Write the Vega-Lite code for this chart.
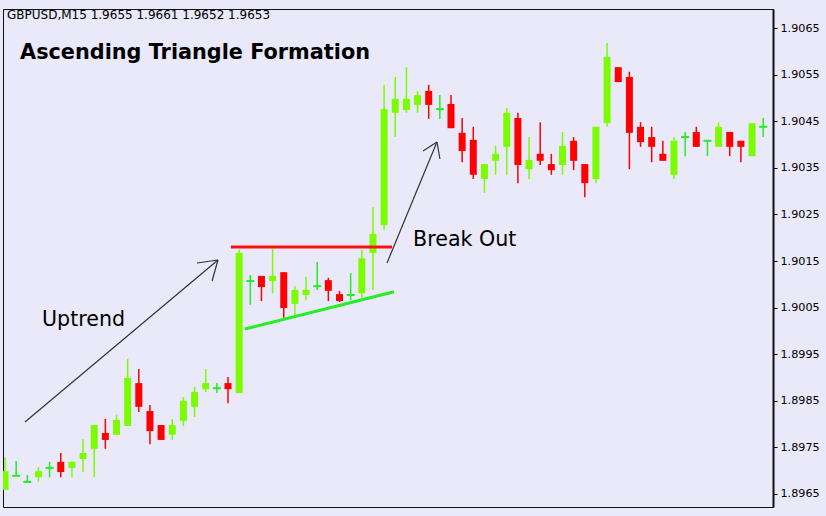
{
  "$schema": "https://vega.github.io/schema/vega-lite/v6.json",
  "width": 770,
  "height": 498,
  "autosize": {"type": "none"},
  "padding": {"left": 3, "top": 9, "right": 53, "bottom": 9},
  "background": "#E9E9F9",
  "config": {
    "view": {"fill": "#E9E9F9", "stroke": "#111111", "strokeWidth": 1},
    "font": "DejaVu Sans"
  },
  "datasets": {
    "candles": [
      {"i":0,"o":1.89659,"h":1.89729,"l":1.89659,"c":1.89699,"dir":"up"},
      {"i":1,"o":1.89689,"h":1.89721,"l":1.89689,"c":1.89689,"dir":"doji"},
      {"i":2,"o":1.89676,"h":1.89691,"l":1.89676,"c":1.89676,"dir":"doji"},
      {"i":3,"o":1.89686,"h":1.89708,"l":1.89676,"c":1.89699,"dir":"up"},
      {"i":4,"o":1.89706,"h":1.89719,"l":1.89686,"c":1.89706,"dir":"doji"},
      {"i":5,"o":1.89719,"h":1.89738,"l":1.89686,"c":1.89697,"dir":"down"},
      {"i":6,"o":1.89706,"h":1.89719,"l":1.89686,"c":1.89719,"dir":"up"},
      {"i":7,"o":1.89725,"h":1.89768,"l":1.89697,"c":1.89738,"dir":"up"},
      {"i":8,"o":1.89747,"h":1.89798,"l":1.89686,"c":1.89798,"dir":"up"},
      {"i":9,"o":1.89781,"h":1.89811,"l":1.89747,"c":1.89766,"dir":"down"},
      {"i":10,"o":1.89777,"h":1.8982,"l":1.89777,"c":1.89809,"dir":"up"},
      {"i":11,"o":1.89796,"h":1.8994,"l":1.89796,"c":1.89899,"dir":"up"},
      {"i":12,"o":1.89888,"h":1.89918,"l":1.89826,"c":1.89837,"dir":"down"},
      {"i":13,"o":1.89828,"h":1.89841,"l":1.89757,"c":1.89785,"dir":"down"},
      {"i":14,"o":1.89798,"h":1.89798,"l":1.89766,"c":1.89766,"dir":"down"},
      {"i":15,"o":1.89777,"h":1.89811,"l":1.89766,"c":1.89798,"dir":"up"},
      {"i":16,"o":1.89807,"h":1.89858,"l":1.89796,"c":1.8985,"dir":"up"},
      {"i":17,"o":1.89837,"h":1.8988,"l":1.89815,"c":1.89869,"dir":"up"},
      {"i":18,"o":1.89875,"h":1.89918,"l":1.89869,"c":1.89888,"dir":"up"},
      {"i":19,"o":1.89877,"h":1.89888,"l":1.89867,"c":1.89877,"dir":"doji"},
      {"i":20,"o":1.89888,"h":1.89901,"l":1.89845,"c":1.89875,"dir":"down"},
      {"i":21,"o":1.89867,"h":1.90174,"l":1.89867,"c":1.90167,"dir":"up"},
      {"i":22,"o":1.90107,"h":1.9012,"l":1.90056,"c":1.90107,"dir":"doji"},
      {"i":23,"o":1.90118,"h":1.90118,"l":1.90064,"c":1.90094,"dir":"down"},
      {"i":24,"o":1.90107,"h":1.90176,"l":1.90081,"c":1.90118,"dir":"up"},
      {"i":25,"o":1.90126,"h":1.90126,"l":1.90028,"c":1.90049,"dir":"down"},
      {"i":26,"o":1.90058,"h":1.90096,"l":1.9003,"c":1.90088,"dir":"up"},
      {"i":27,"o":1.90077,"h":1.90116,"l":1.90066,"c":1.90088,"dir":"up"},
      {"i":28,"o":1.90096,"h":1.90148,"l":1.90088,"c":1.90096,"dir":"doji"},
      {"i":29,"o":1.90109,"h":1.90114,"l":1.90064,"c":1.90086,"dir":"down"},
      {"i":30,"o":1.90079,"h":1.90086,"l":1.90062,"c":1.90064,"dir":"down"},
      {"i":31,"o":1.90077,"h":1.90124,"l":1.90066,"c":1.90077,"dir":"doji"},
      {"i":32,"o":1.90081,"h":1.90174,"l":1.90071,"c":1.90156,"dir":"up"},
      {"i":33,"o":1.90167,"h":1.90266,"l":1.90088,"c":1.90208,"dir":"up"},
      {"i":34,"o":1.90227,"h":1.90528,"l":1.90217,"c":1.90476,"dir":"up"},
      {"i":35,"o":1.90468,"h":1.90545,"l":1.90416,"c":1.90498,"dir":"up"},
      {"i":36,"o":1.90474,"h":1.90566,"l":1.90468,"c":1.90498,"dir":"up"},
      {"i":37,"o":1.90485,"h":1.90515,"l":1.90468,"c":1.90506,"dir":"up"},
      {"i":38,"o":1.90515,"h":1.90528,"l":1.90455,"c":1.90485,"dir":"down"},
      {"i":39,"o":1.90476,"h":1.90506,"l":1.90455,"c":1.90476,"dir":"doji"},
      {"i":40,"o":1.90487,"h":1.90506,"l":1.90435,"c":1.90435,"dir":"down"},
      {"i":41,"o":1.90425,"h":1.90457,"l":1.90362,"c":1.90386,"dir":"down"},
      {"i":42,"o":1.9041,"h":1.90438,"l":1.90326,"c":1.90335,"dir":"down"},
      {"i":43,"o":1.90326,"h":1.90358,"l":1.90296,"c":1.90358,"dir":"up"},
      {"i":44,"o":1.90365,"h":1.90397,"l":1.90335,"c":1.9038,"dir":"up"},
      {"i":45,"o":1.90395,"h":1.90478,"l":1.90335,"c":1.90468,"dir":"up"},
      {"i":46,"o":1.90457,"h":1.90468,"l":1.90317,"c":1.90356,"dir":"down"},
      {"i":47,"o":1.90347,"h":1.90416,"l":1.90326,"c":1.90367,"dir":"up"},
      {"i":48,"o":1.9038,"h":1.90448,"l":1.90356,"c":1.90365,"dir":"down"},
      {"i":49,"o":1.90358,"h":1.9038,"l":1.90335,"c":1.90345,"dir":"down"},
      {"i":50,"o":1.90356,"h":1.90427,"l":1.90335,"c":1.90397,"dir":"up"},
      {"i":51,"o":1.90408,"h":1.90416,"l":1.90345,"c":1.90365,"dir":"down"},
      {"i":52,"o":1.90358,"h":1.90358,"l":1.90287,"c":1.90317,"dir":"down"},
      {"i":53,"o":1.90326,"h":1.90438,"l":1.90317,"c":1.90438,"dir":"up"},
      {"i":54,"o":1.90446,"h":1.90618,"l":1.90438,"c":1.90588,"dir":"up"},
      {"i":55,"o":1.90566,"h":1.90566,"l":1.90534,"c":1.90534,"dir":"down"},
      {"i":56,"o":1.90545,"h":1.90556,"l":1.90347,"c":1.90425,"dir":"down"},
      {"i":57,"o":1.90438,"h":1.90448,"l":1.90395,"c":1.90405,"dir":"down"},
      {"i":58,"o":1.90416,"h":1.90438,"l":1.90362,"c":1.90395,"dir":"down"},
      {"i":59,"o":1.9038,"h":1.90408,"l":1.90365,"c":1.90365,"dir":"down"},
      {"i":60,"o":1.90335,"h":1.90416,"l":1.90326,"c":1.90408,"dir":"up"},
      {"i":61,"o":1.90416,"h":1.90427,"l":1.90375,"c":1.90416,"dir":"doji"},
      {"i":62,"o":1.90427,"h":1.90438,"l":1.90395,"c":1.90395,"dir":"down"},
      {"i":63,"o":1.90408,"h":1.90408,"l":1.90375,"c":1.90408,"dir":"doji"},
      {"i":64,"o":1.90395,"h":1.90448,"l":1.90395,"c":1.90438,"dir":"up"},
      {"i":65,"o":1.90427,"h":1.90427,"l":1.90375,"c":1.90395,"dir":"down"},
      {"i":66,"o":1.90408,"h":1.90408,"l":1.90362,"c":1.90395,"dir":"down"},
      {"i":67,"o":1.90375,"h":1.90446,"l":1.90375,"c":1.90446,"dir":"up"},
      {"i":68,"o":1.90438,"h":1.90457,"l":1.90416,"c":1.90438,"dir":"doji"}
    ],
    "resistance": [{"x": 20.27, "p": 1.9018}, {"x": 34.71, "p": 1.9018}],
    "support": [{"x": 21.52, "p": 1.90004}, {"x": 34.89, "p": 1.90084}],
    "arrows": [
      {"seg": "a1", "x": 1.79, "p": 1.898045},
      {"seg": "a1", "x": 19.1, "p": 1.901521},
      {"seg": "a1b1", "x": 17.22, "p": 1.901457},
      {"seg": "a1b1", "x": 19.1, "p": 1.901521},
      {"seg": "a1b2", "x": 18.57, "p": 1.901071},
      {"seg": "a1b2", "x": 19.1, "p": 1.901521},
      {"seg": "a2", "x": 34.26, "p": 1.901457},
      {"seg": "a2", "x": 38.74, "p": 1.904054},
      {"seg": "a2b1", "x": 37.49, "p": 1.90386},
      {"seg": "a2b1", "x": 38.74, "p": 1.904054},
      {"seg": "a2b2", "x": 39.01, "p": 1.903689},
      {"seg": "a2b2", "x": 38.74, "p": 1.904054}
    ],
    "title": [{"label": "Ascending Triangle Formation", "x": 1.35, "p": 1.905964}],
    "notes": [
      {"label": "Uptrend", "x": 3.32, "p": 1.900234},
      {"label": "Break Out", "x": 36.6, "p": 1.90195}
    ],
    "header": [{"label": "GBPUSD,M15  1.9655 1.9661 1.9652 1.9653", "x": 0.18, "p": 1.906779}]
  },
  "layer": [
    {
      "data": {"name": "candles"},
      "mark": {"type": "rule", "strokeWidth": 1.5, "clip": true},
      "encoding": {
        "x": {"field": "i", "type": "quantitative", "scale": {"domain": [-0.18, 68.88], "nice": false, "zero": false}, "axis": null},
        "y": {
          "field": "l", "type": "quantitative",
          "scale": {"domain": [1.896221, 1.906908], "nice": false, "zero": false},
          "axis": {
            "orient": "right", "title": null, "grid": false,
            "values": [1.8965, 1.8975, 1.8985, 1.8995, 1.9005, 1.9015, 1.9025, 1.9035, 1.9045, 1.9055, 1.9065],
            "format": ".4f",
            "labelFont": "DejaVu Sans", "labelFontSize": 11.2, "labelColor": "#000000",
            "labelPadding": 3,
            "tickColor": "#000000", "tickSize": 4, "tickWidth": 1,
            "domainColor": "#111111", "domainWidth": 2
          }
        },
        "y2": {"field": "h"},
        "color": {"field": "dir", "type": "nominal", "scale": {"domain": ["up", "down", "doji"], "range": ["#7CFC00", "#FF0000", "#22EE22"]}, "legend": null}
      }
    },
    {
      "data": {"name": "candles"},
      "transform": [{"filter": "datum.dir !== 'doji'"}],
      "mark": {"type": "rule", "strokeWidth": 7, "strokeCap": "butt", "clip": true},
      "encoding": {
        "x": {"field": "i", "type": "quantitative"},
        "y": {"field": "o", "type": "quantitative"},
        "y2": {"field": "c"},
        "color": {"field": "dir", "type": "nominal", "legend": null}
      }
    },
    {
      "data": {"name": "candles"},
      "transform": [{"filter": "datum.dir === 'doji'"}],
      "mark": {"type": "tick", "orient": "horizontal", "size": 8, "thickness": 2, "opacity": 1, "clip": true},
      "encoding": {
        "x": {"field": "i", "type": "quantitative"},
        "y": {"field": "o", "type": "quantitative"},
        "color": {"field": "dir", "type": "nominal", "legend": null}
      }
    },
    {
      "data": {"name": "resistance"},
      "mark": {"type": "line", "color": "#FF1010", "strokeWidth": 3},
      "encoding": {
        "x": {"field": "x", "type": "quantitative"},
        "y": {"field": "p", "type": "quantitative"}
      }
    },
    {
      "data": {"name": "support"},
      "mark": {"type": "line", "color": "#22EE22", "strokeWidth": 3},
      "encoding": {
        "x": {"field": "x", "type": "quantitative"},
        "y": {"field": "p", "type": "quantitative"}
      }
    },
    {
      "data": {"name": "arrows"},
      "mark": {"type": "line", "color": "#333333", "strokeWidth": 1.2},
      "encoding": {
        "x": {"field": "x", "type": "quantitative"},
        "y": {"field": "p", "type": "quantitative"},
        "detail": {"field": "seg", "type": "nominal"}
      }
    },
    {
      "data": {"name": "title"},
      "mark": {"type": "text", "align": "left", "baseline": "middle", "font": "DejaVu Sans", "fontWeight": "bold", "fontSize": 20.8, "color": "#000000"},
      "encoding": {
        "x": {"field": "x", "type": "quantitative"},
        "y": {"field": "p", "type": "quantitative"},
        "text": {"field": "label"}
      }
    },
    {
      "data": {"name": "notes"},
      "mark": {"type": "text", "align": "left", "baseline": "middle", "font": "DejaVu Sans", "fontSize": 20.6, "color": "#000000"},
      "encoding": {
        "x": {"field": "x", "type": "quantitative"},
        "y": {"field": "p", "type": "quantitative"},
        "text": {"field": "label"}
      }
    },
    {
      "data": {"name": "header"},
      "mark": {"type": "text", "align": "left", "baseline": "middle", "font": "DejaVu Sans", "fontSize": 12, "color": "#000000"},
      "encoding": {
        "x": {"field": "x", "type": "quantitative"},
        "y": {"field": "p", "type": "quantitative"},
        "text": {"field": "label"}
      }
    }
  ]
}
